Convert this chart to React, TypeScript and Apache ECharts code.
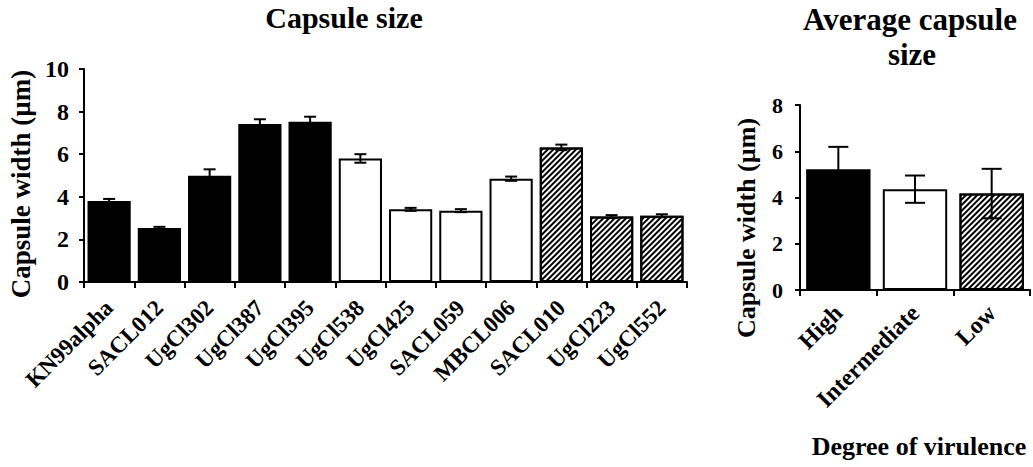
import React, { useEffect, useRef } from "react";
import * as echarts from "echarts";

const strains = [
  "KN99alpha", "SACL012", "UgCl302", "UgCl387", "UgCl395", "UgCl538",
  "UgCl425", "SACL059", "MBCL006", "SACL010", "UgCl223", "UgCl552",
];
const strainWidth = [3.8, 2.53, 4.99, 7.42, 7.52, 5.8, 3.41, 3.35, 4.85, 6.32, 3.07, 3.11];
const strainError = [0.1, 0.06, 0.3, 0.22, 0.24, 0.2, 0.07, 0.07, 0.1, 0.13, 0.07, 0.07];
const strainVirulence = [
  "High", "High", "High", "High", "High",
  "Intermediate", "Intermediate", "Intermediate", "Intermediate",
  "Low", "Low", "Low",
];
const virulenceGroups = ["High", "Intermediate", "Low"];
const groupWidth = [5.22, 4.36, 4.17];
const groupError = [0.97, 0.59, 1.07];

const leftMax = 10;
const rightMax = 8;
const tickStep = 2;

const FONT = '"Liberation Serif", "Times New Roman", serif';

const hatch = {
  symbol: "rect",
  symbolSize: 1,
  color: "#000",
  dashArrayX: [1, 0],
  dashArrayY: [1.2, 1.9],
  rotation: -Math.PI / 4,
};

function styleFor(group: string) {
  if (group === "High") return { color: "#000", borderColor: "#000", borderWidth: 2 };
  if (group === "Intermediate") return { color: "#fff", borderColor: "#000", borderWidth: 2 };
  return { color: "#fff", borderColor: "#000", borderWidth: 2, decal: hatch };
}

function errorRender(cap: number) {
  return (_params: any, api: any) => {
    const i = api.value(0);
    const v = api.value(1);
    const e = api.value(2);
    const hi = api.coord([i, v + e]);
    const lo = api.coord([i, v - e]);
    const style = { stroke: "#000", lineWidth: 2 };
    return {
      type: "group",
      children: [
        { type: "line", shape: { x1: hi[0], y1: hi[1], x2: lo[0], y2: lo[1] }, style },
        { type: "line", shape: { x1: hi[0] - cap / 2, y1: hi[1], x2: hi[0] + cap / 2, y2: hi[1] }, style },
        { type: "line", shape: { x1: lo[0] - cap / 2, y1: lo[1], x2: lo[0] + cap / 2, y2: lo[1] }, style },
      ],
    };
  };
}

function yAxis(gridIndex: number, max: number, fontSize: number, margin: number) {
  return {
    type: "value",
    gridIndex,
    min: 0,
    max,
    interval: tickStep,
    splitLine: { show: false },
    axisLine: { show: true, lineStyle: { color: "#000", width: 2 } },
    axisTick: { show: true, length: 5, lineStyle: { color: "#000", width: 2 } },
    axisLabel: { color: "#000", fontFamily: FONT, fontWeight: "bold", fontSize, margin },
  };
}

function xAxis(gridIndex: number, data: string[], fontSize: number, margin: number) {
  return {
    type: "category",
    gridIndex,
    data,
    boundaryGap: true,
    axisLine: { show: true, lineStyle: { color: "#000", width: 2 } },
    axisTick: { show: true, length: 6, alignWithLabel: false, lineStyle: { color: "#000", width: 2 } },
    axisLabel: {
      color: "#000",
      fontFamily: FONT,
      fontWeight: "bold",
      fontSize,
      rotate: 45,
      margin,
      interval: 0,
    },
  };
}

function textEl(text: string, x: number, y: number, size: number, rotation = 0) {
  return {
    type: "text",
    x,
    y,
    rotation,
    style: {
      text,
      fill: "#000",
      font: `bold ${size}px ${FONT}`,
      textAlign: "center",
      textVerticalAlign: "middle",
    },
  };
}

export default function App() {
  const ref = useRef<HTMLDivElement>(null);
  useEffect(() => {
    if (!ref.current) return;
    const chart = echarts.init(ref.current, null, { renderer: "svg" });
    chart.setOption({
      animation: false,
      backgroundColor: "#fff",
      grid: [
        { left: 84, top: 69, width: 603, height: 213 },
        { left: 800, top: 105, width: 230, height: 185 },
      ],
      xAxis: [xAxis(0, strains, 23, 22), xAxis(1, virulenceGroups, 24, 19)],
      yAxis: [yAxis(0, leftMax, 24, 15), yAxis(1, rightMax, 22, 17)],
      series: [
        {
          type: "bar",
          xAxisIndex: 0,
          yAxisIndex: 0,
          barCategoryGap: "14%",
          data: strainWidth.map((v, i) => ({ value: v, itemStyle: styleFor(strainVirulence[i]) })),
        },
        {
          type: "custom",
          xAxisIndex: 0,
          yAxisIndex: 0,
          renderItem: errorRender(12),
          data: strainWidth.map((v, i) => [i, v, strainError[i]]),
          z: 5,
        },
        {
          type: "bar",
          xAxisIndex: 1,
          yAxisIndex: 1,
          barCategoryGap: "16%",
          data: groupWidth.map((v, i) => ({ value: v, itemStyle: styleFor(virulenceGroups[i]) })),
        },
        {
          type: "custom",
          xAxisIndex: 1,
          yAxisIndex: 1,
          renderItem: errorRender(20),
          data: groupWidth.map((v, i) => [i, v, groupError[i]]),
          z: 5,
        },
      ],
      graphic: [
        textEl("Capsule size", 344, 17, 30),
        textEl("Average capsule", 910, 19, 31),
        textEl("size", 912, 54, 31),
        textEl("Degree of virulence", 919, 446, 26),
        textEl("Capsule width (µm)", 21, 184, 27, Math.PI / 2),
        textEl("Capsule width (µm)", 746, 228, 26, Math.PI / 2),
      ],
    });
    return () => chart.dispose();
  }, []);
  return (
    <div
      ref={ref}
      style={{ position: "fixed", left: 0, top: 0, width: 1033, height: 467 }}
    />
  );
}
